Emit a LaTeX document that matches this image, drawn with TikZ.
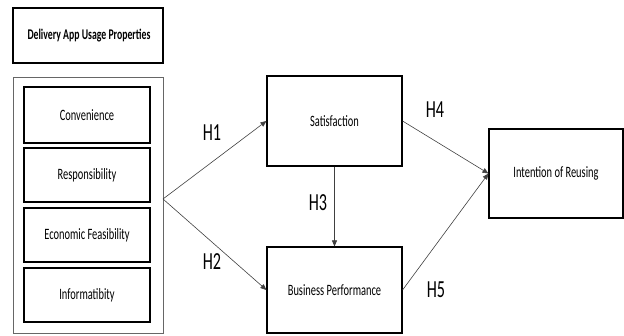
\documentclass[tikz,border=0pt]{standalone}
\usepackage{fontspec}
\setmainfont[FakeStretch=0.66]{Carlito}
\usetikzlibrary{arrows.meta}
\begin{document}
\begin{tikzpicture}[x=1pt,y=-1pt,
  box/.style={draw=black,line width=1.1pt,inner sep=0pt},
  outer/.style={draw=black!60,line width=0.8pt},
  lbl/.style={font=\fontsize{15.8}{17}\selectfont},
  hyp/.style={font=\fontsize{24.5}{27}\selectfont},
  conn/.style={draw=black!75,line width=0.6pt,-{Triangle[length=6pt,width=5pt]}},
  plain/.style={draw=black!75,line width=0.6pt}]
\useasboundingbox (0,0) rectangle (624,336);
% title
\draw[box] (13,8) rectangle (163,63);
\node[font=\bfseries\fontsize{14.8}{16}\selectfont] (title) at (89,35.5) {Delivery App Usage Properties};
% outer group
\draw[outer] (13,77) rectangle (163,333);
\coordinate (junc) at (163,199);
\draw[box] (24,87) rectangle (150,143); \node[lbl] (c1) at (87,115) {Convenience};
\draw[box] (24,148) rectangle (150,202); \node[lbl] (c2) at (87,175) {Responsibility};
\draw[box] (24,208) rectangle (150,262); \node[lbl] (c3) at (87,235) {Economic Feasibility};
\draw[box] (24,268) rectangle (150,322); \node[lbl] (c4) at (87,295) {Informatibity};
% right boxes
\node[box,lbl,minimum width=135pt,minimum height=90pt] (sat) at (334.5,121) {Satisfaction};
\node[box,lbl,minimum width=135pt,minimum height=86pt] (bp) at (334.5,290) {Business Performance};
\node[box,lbl,minimum width=134pt,minimum height=89pt] (int) at (556,173.5) {Intention of Reusing};
% connectors
\draw[conn] (junc) -- (sat.west);
\draw[conn] (junc) -- (bp.west);
\draw[conn] (sat.south) -- (bp.north);
\draw[conn] (sat.east) -- (int.west);
\draw[conn] (bp.east) -- (int.west);
% labels
\node[hyp] (h1) at (212,133) {H1};
\node[hyp] (h2) at (212,262) {H2};
\node[hyp] (h3) at (318,203) {H3};
\node[hyp] (h4) at (435,110) {H4};
\node[hyp] (h5) at (436,290) {H5};
\end{tikzpicture}
\end{document}
